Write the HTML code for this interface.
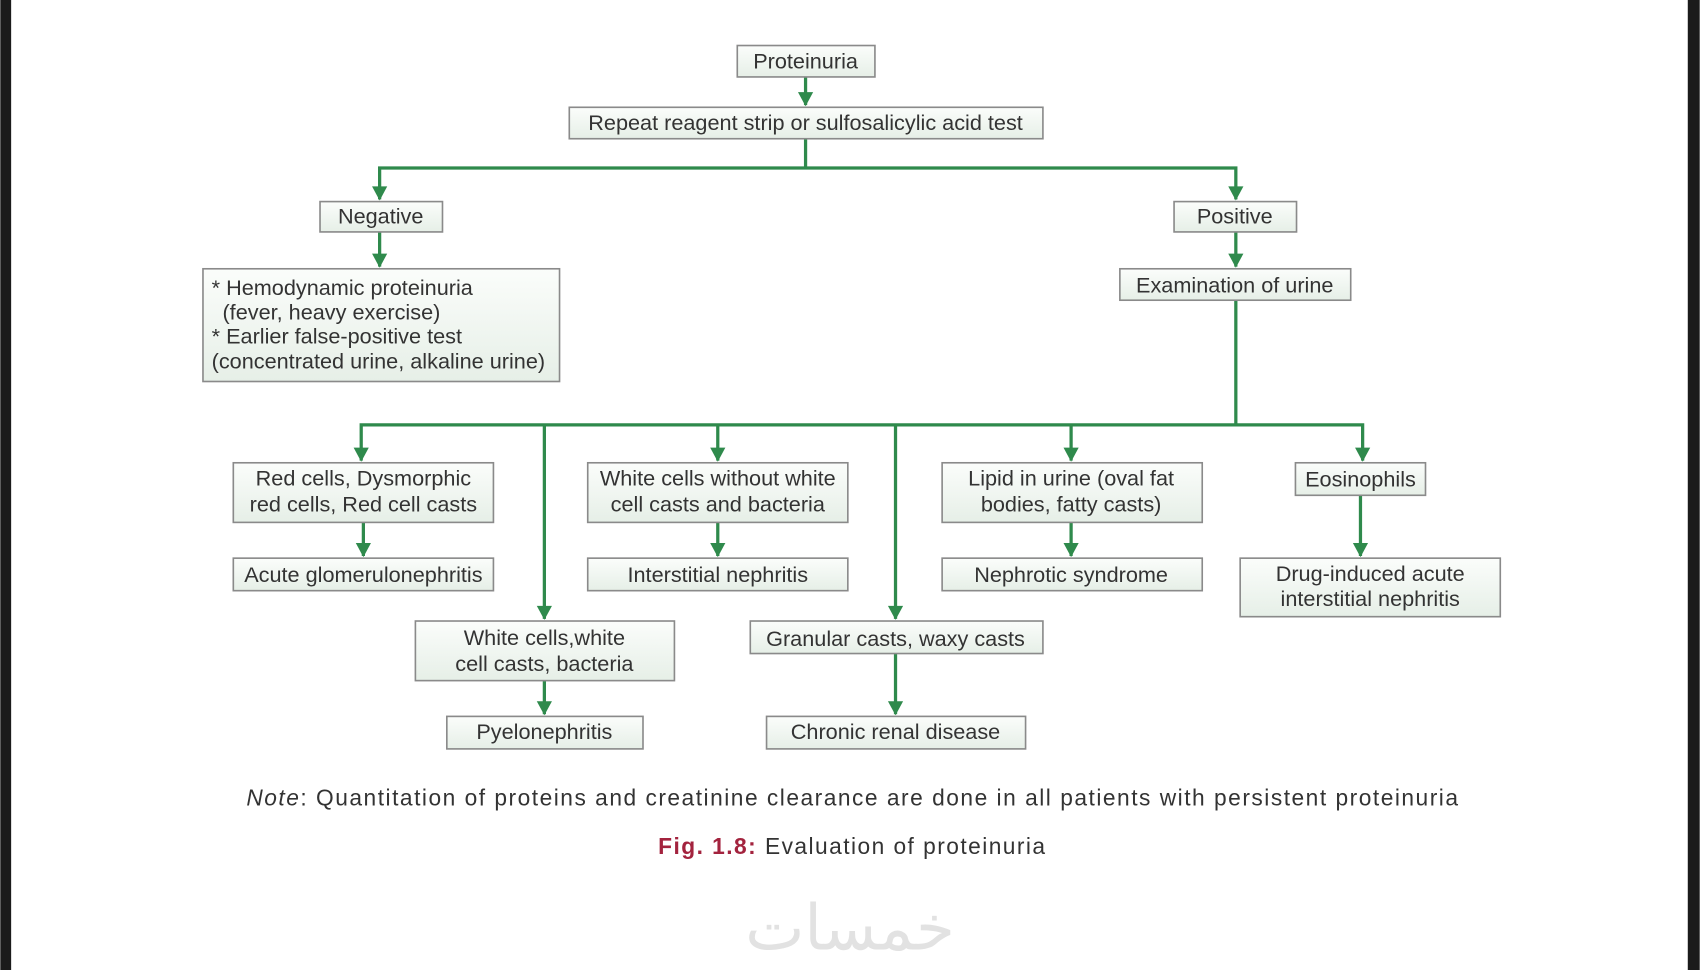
<!DOCTYPE html>
<html><head><meta charset="utf-8"><style>
html,body{margin:0;padding:0;background:#fff;width:1700px;height:970px;overflow:hidden}
svg{display:block}
text{font-family:"Liberation Sans",Arial,sans-serif;fill:#333;font-size:20px}
</style></head><body>
<svg width="1700" height="970" viewBox="0 0 1568 895" xmlns="http://www.w3.org/2000/svg">
<defs>
<linearGradient id="g" x1="0" y1="0" x2="0" y2="1"><stop offset="0" stop-color="#fbfdfb"/><stop offset="1" stop-color="#e6efe7"/></linearGradient>
</defs>
<rect x="0" y="0" width="10" height="895" fill="#1b1b1b"/>
<rect x="1557" y="0" width="11" height="895" fill="#1b1b1b"/>
<g stroke="#2f8a4c" stroke-width="3" fill="none">
<line x1="743" y1="71" x2="743" y2="97"/>
<polyline points="743,128 743,155"/>
<polyline points="350,184 350,155 1140,155 1140,184"/>
<line x1="350" y1="214" x2="350" y2="246"/>
<line x1="1140" y1="214" x2="1140" y2="246"/>
<line x1="1140" y1="277" x2="1140" y2="392"/>
<polyline points="333,425 333,392 1257,392 1257,425"/>
<line x1="662" y1="392" x2="662" y2="425"/>
<line x1="988" y1="392" x2="988" y2="425"/>
<line x1="502" y1="392" x2="502" y2="571"/>
<line x1="826" y1="392" x2="826" y2="571"/>
<line x1="335" y1="482" x2="335" y2="513"/>
<line x1="662" y1="482" x2="662" y2="513"/>
<line x1="988" y1="482" x2="988" y2="513"/>
<line x1="1255" y1="457" x2="1255" y2="513"/>
<line x1="502" y1="628" x2="502" y2="659"/>
<line x1="826" y1="603" x2="826" y2="659"/>
</g>
<g fill="#2f8a4c">
<path d="M736,85 L750,85 L743,98 z"/>
<path d="M343,172 L357,172 L350,185 z"/><path d="M1133,172 L1147,172 L1140,185 z"/>
<path d="M343,234 L357,234 L350,247 z"/><path d="M1133,234 L1147,234 L1140,247 z"/>
<path d="M326,413 L340,413 L333,426 z"/><path d="M655,413 L669,413 L662,426 z"/>
<path d="M981,413 L995,413 L988,426 z"/><path d="M1250,413 L1264,413 L1257,426 z"/>
<path d="M495,559 L509,559 L502,572 z"/><path d="M819,559 L833,559 L826,572 z"/>
<path d="M328,501 L342,501 L335,514 z"/><path d="M655,501 L669,501 L662,514 z"/>
<path d="M981,501 L995,501 L988,514 z"/><path d="M1248,501 L1262,501 L1255,514 z"/>
<path d="M495,647 L509,647 L502,660 z"/><path d="M819,647 L833,647 L826,660 z"/>
</g>
<g stroke="#8a8a8a" stroke-width="1.5" fill="url(#g)">
<rect x="680" y="42" width="127" height="29"/>
<rect x="525" y="99" width="437" height="29"/>
<rect x="295" y="186" width="113" height="28"/>
<rect x="1083" y="186" width="113" height="28"/>
<rect x="187" y="248" width="329" height="104"/>
<rect x="1033" y="248" width="213" height="29"/>
<rect x="215" y="427" width="240" height="55"/>
<rect x="542" y="427" width="240" height="55"/>
<rect x="869" y="427" width="240" height="55"/>
<rect x="1195" y="427" width="120" height="30"/>
<rect x="215" y="515" width="240" height="30"/>
<rect x="542" y="515" width="240" height="30"/>
<rect x="869" y="515" width="240" height="30"/>
<rect x="1144" y="515" width="240" height="54"/>
<rect x="383" y="573" width="239" height="55"/>
<rect x="692" y="573" width="270" height="30"/>
<rect x="412" y="661" width="181" height="30"/>
<rect x="707" y="661" width="239" height="30"/>
</g>
<g text-anchor="middle">
<text x="743" y="63">Proteinuria</text>
<text x="743" y="120">Repeat reagent strip or sulfosalicylic acid test</text>
<text x="351" y="206">Negative</text>
<text x="1139" y="206">Positive</text>
<text x="1139" y="270">Examination of urine</text>
<text x="335" y="448">Red cells, Dysmorphic</text>
<text x="335" y="472">red cells, Red cell casts</text>
<text x="662" y="448">White cells without white</text>
<text x="662" y="472">cell casts and bacteria</text>
<text x="988" y="448">Lipid in urine (oval fat</text>
<text x="988" y="472">bodies, fatty casts)</text>
<text x="1255" y="449">Eosinophils</text>
<text x="335" y="537">Acute glomerulonephritis</text>
<text x="662" y="537">Interstitial nephritis</text>
<text x="988" y="537">Nephrotic syndrome</text>
<text x="1264" y="536">Drug-induced acute</text>
<text x="1264" y="559">interstitial nephritis</text>
<text x="502" y="595">White cells,white</text>
<text x="502" y="619">cell casts, bacteria</text>
<text x="826" y="596">Granular casts, waxy casts</text>
<text x="502" y="682">Pyelonephritis</text>
<text x="826" y="682">Chronic renal disease</text>
</g>
<text x="195" y="272">* Hemodynamic proteinuria</text>
<text x="205" y="295">(fever, heavy exercise)</text>
<text x="195" y="317">* Earlier false-positive test</text>
<text x="195" y="340">(concentrated urine, alkaline urine)</text>
<text x="227" y="743" style="font-size:21px" textLength="1118" lengthAdjust="spacing"><tspan font-style="italic">Note</tspan>: Quantitation of proteins and creatinine clearance are done in all patients with persistent proteinuria</text>
<text x="607" y="788" style="font-size:21px" textLength="357" lengthAdjust="spacing"><tspan fill="#a3233e" font-weight="bold">Fig. 1.8:</tspan> Evaluation of proteinuria</text>
<text x="784" y="876" text-anchor="middle" style="font-size:58px;fill:#e2e2e2;font-family:'DejaVu Sans',sans-serif">خمسات</text>
</svg>
</body></html>
